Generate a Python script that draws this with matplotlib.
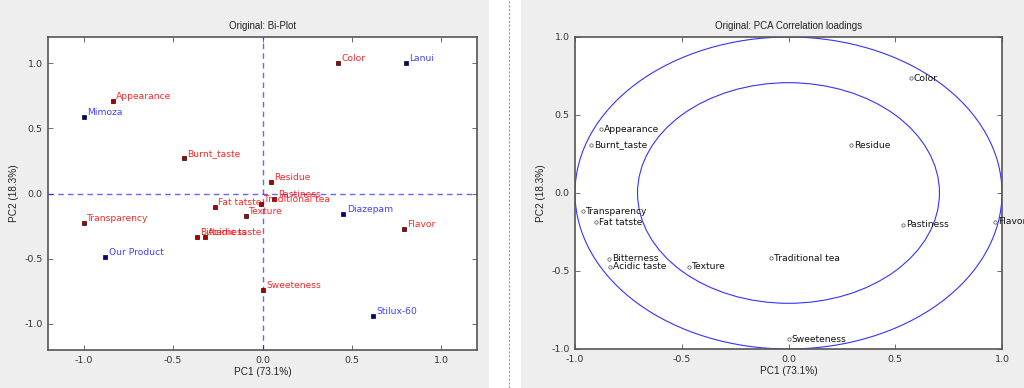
import numpy as np
import matplotlib
matplotlib.use("Agg")
import matplotlib.pyplot as plt
from matplotlib.patches import Circle, Rectangle
from matplotlib.lines import Line2D

plt.rcParams['axes.unicode_minus'] = False

# biplot: atributos (vermelho) e produtos (azul)
attr_names = ["Color", "Appearance", "Burnt_taste", "Residue", "Pastiness",
              "Traditional tea", "Fat tatste", "Texture", "Transparency",
              "Bitterness", "Acidic taste", "Flavor", "Sweeteness"]
attr_x = [0.425, -0.838, -0.441, 0.045, 0.067, -0.01, -0.268, -0.094, -1.0,
          -0.368, -0.324, 0.79, 0.0]
attr_y = [1.0, 0.708, 0.27, 0.092, -0.046, -0.08, -0.10, -0.17, -0.225,
          -0.33, -0.33, -0.275, -0.74]

prod_names = ["Lanui", "Mimoza", "Diazepam", "Our Product", "Stilux-60"]
prod_x = [0.80, -1.0, 0.452, -0.88, 0.617]
prod_y = [1.0, 0.585, -0.154, -0.49, -0.94]

# loadings de correlacao
load_names = ["Color", "Residue", "Appearance", "Burnt_taste", "Transparency",
              "Fat tatste", "Bitterness", "Acidic taste", "Texture",
              "Traditional tea", "Pastiness", "Flavor", "Sweeteness"]
load_x = [0.574, 0.293, -0.878, -0.925, -0.963, -0.90, -0.84, -0.836, -0.467,
          -0.082, 0.536, 0.967, 0.0]
load_y = [0.737, 0.307, 0.41, 0.307, -0.117, -0.187, -0.42, -0.474, -0.474,
          -0.418, -0.204, -0.185, -0.936]

circle_radii = [1.0, np.sqrt(0.5)]
ticks = [-1.0, -0.5, 0.0, 0.5, 1.0]

W, H = 1024, 388
fig = plt.figure(figsize=(W/100, H/100), dpi=100)
fig.patch.set_facecolor('#eeeeee')

# faixa branca com linha tracejada no meio
fig.patches.append(Rectangle((489/W, 0), 32/W, 1, transform=fig.transFigure,
                             facecolor='white', edgecolor='none', zorder=0))
fig.lines.append(Line2D([508.5/W, 508.5/W], [0, 1], transform=fig.transFigure,
                        color='#999999', lw=0.8, ls=(0, (2, 1.5))))

narrow = ['Liberation Sans Narrow', 'Liberation Sans', 'DejaVu Sans']

def style_axes(ax):
    ax.set_facecolor('white')
    for s in ax.spines.values():
        s.set_color('#555555')
        s.set_linewidth(1.2)
    ax.tick_params(direction='in', top=True, right=True, length=3.5,
                   width=0.6, color='#555555', labelsize=6.8,
                   labelcolor='#333333', pad=4)
    ax.set_xticks(ticks)
    ax.set_yticks(ticks)
    ax.set_xticklabels(["%.1f" % t for t in ticks])
    ax.set_yticklabels(["%.1f" % t for t in ticks])
    ax.set_xlabel("PC1 (73.1%)", family=narrow, fontsize=7.2, color='#222222', labelpad=2)
    ax.set_ylabel("PC2 (18.3%)", family=narrow, fontsize=7.2, color='#222222', labelpad=4)

# --- Bi-Plot ---
ax1 = fig.add_axes([48/W, (H-350)/H, 429/W, 313/H])
style_axes(ax1)
ax1.set_xlim(-1.2, 1.2)
ax1.set_ylim(-1.2, 1.2)
ax1.axhline(0, color='blue', ls='--', lw=1, alpha=0.6, dashes=(4, 3))
ax1.axvline(0, color='blue', ls='--', lw=1, alpha=0.6, dashes=(4, 3))
ax1.plot(attr_x, attr_y, 's', ms=2.6, mfc='#aa0000', mec='#330000', mew=0.5)
ax1.plot(prod_x, prod_y, 's', ms=2.6, mfc='#000088', mec='#000033', mew=0.5)
for n, x, y in zip(attr_names, attr_x, attr_y):
    ax1.annotate(n, (x, y), xytext=(2.5, 0), textcoords='offset points',
                 fontsize=6.6, color='red', alpha=0.85, va='bottom', ha='left')
for n, x, y in zip(prod_names, prod_x, prod_y):
    ax1.annotate(n, (x, y), xytext=(2.5, 0), textcoords='offset points',
                 fontsize=6.6, color='blue', alpha=0.75, va='bottom', ha='left')
ax1.set_title("Original: Bi-Plot", family=narrow, fontsize=7, color='#222222', pad=6)

# --- Correlation loadings ---
ax2 = fig.add_axes([575/W, (H-349)/H, 427/W, 312/H])
style_axes(ax2)
ax2.set_xlim(-1, 1)
ax2.set_ylim(-1, 1)
for r in circle_radii:
    ax2.add_patch(Circle((0, 0), r, fill=False, edgecolor='blue', lw=0.8, alpha=0.8))
ax2.plot(load_x, load_y, 'o', ms=2.4, mfc='white', mec='#666666', mew=0.6, clip_on=False)
for n, x, y in zip(load_names, load_x, load_y):
    ax2.annotate(n, (x, y), xytext=(2, 0), textcoords='offset points',
                 fontsize=6.6, color='#111111', va='center', ha='left',
                 annotation_clip=False)
ax2.set_title("Original: PCA Correlation loadings", family=narrow, fontsize=7,
              color='#222222', pad=6)

fig.savefig("out.png", dpi=100, facecolor=fig.get_facecolor())
